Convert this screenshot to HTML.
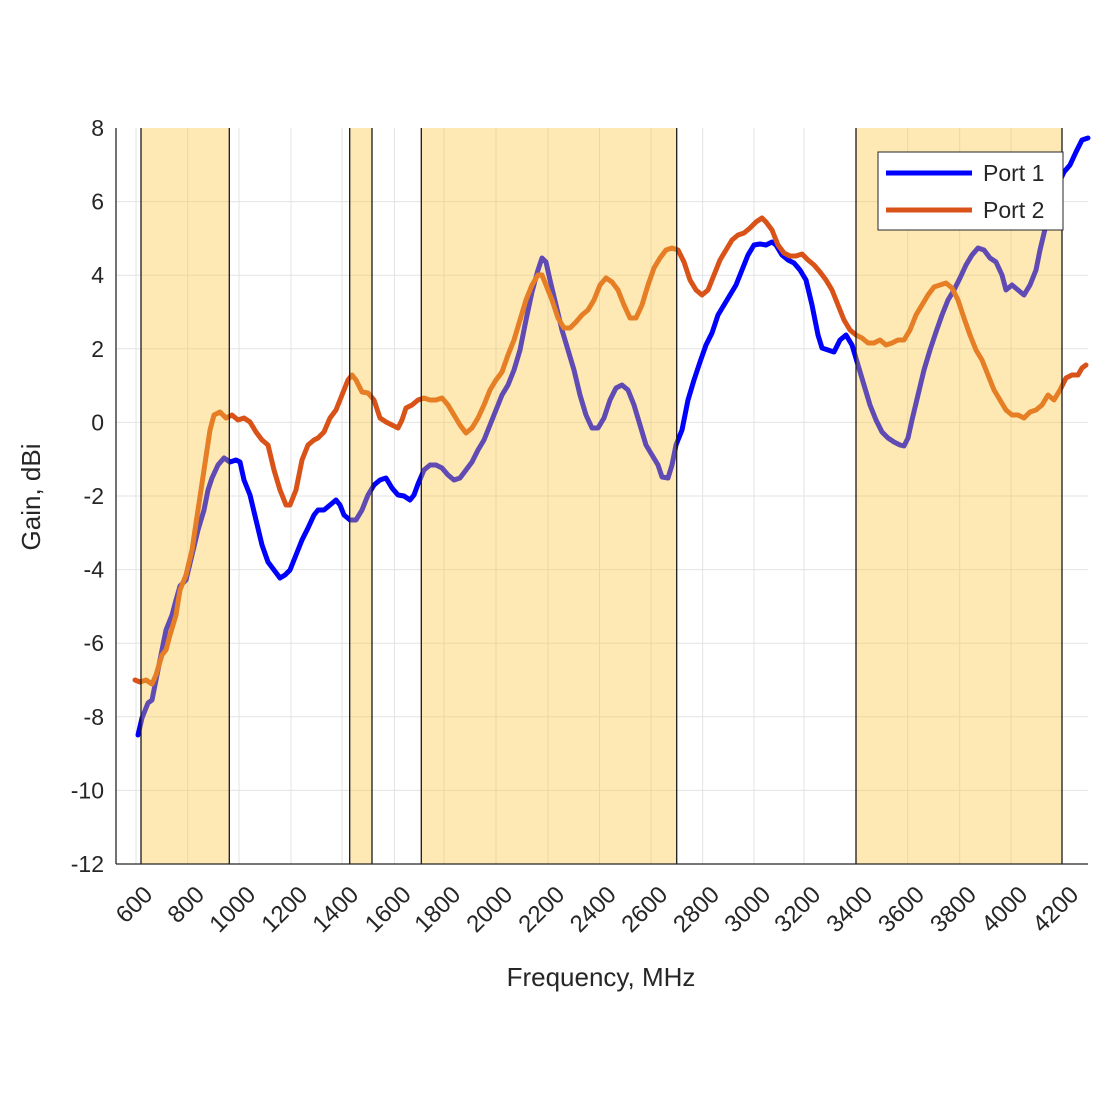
<!DOCTYPE html>
<html><head><meta charset="utf-8"><style>body{margin:0;background:#fff}svg{display:block}text{font-family:"Liberation Sans",sans-serif;fill:#262626}</style></head><body>
<svg width="1100" height="1100" viewBox="0 0 1100 1100">
<rect width="1100" height="1100" fill="#fff"/>
<g stroke="#e3e3e3" stroke-width="1">
<line x1="116" y1="201.6" x2="1088" y2="201.6"/><line x1="116" y1="275.2" x2="1088" y2="275.2"/><line x1="116" y1="348.8" x2="1088" y2="348.8"/><line x1="116" y1="422.4" x2="1088" y2="422.4"/><line x1="116" y1="496" x2="1088" y2="496"/><line x1="116" y1="569.6" x2="1088" y2="569.6"/><line x1="116" y1="643.2" x2="1088" y2="643.2"/><line x1="116" y1="716.8" x2="1088" y2="716.8"/><line x1="116" y1="790.4" x2="1088" y2="790.4"/>
<line x1="136" y1="128" x2="136" y2="864"/><line x1="187.7" y1="128" x2="187.7" y2="864"/><line x1="239" y1="128" x2="239" y2="864"/><line x1="291" y1="128" x2="291" y2="864"/><line x1="342" y1="128" x2="342" y2="864"/><line x1="394.5" y1="128" x2="394.5" y2="864"/><line x1="444" y1="128" x2="444" y2="864"/><line x1="496" y1="128" x2="496" y2="864"/><line x1="548" y1="128" x2="548" y2="864"/><line x1="599.5" y1="128" x2="599.5" y2="864"/><line x1="651" y1="128" x2="651" y2="864"/><line x1="702.7" y1="128" x2="702.7" y2="864"/><line x1="754" y1="128" x2="754" y2="864"/><line x1="804" y1="128" x2="804" y2="864"/><line x1="856" y1="128" x2="856" y2="864"/><line x1="907.7" y1="128" x2="907.7" y2="864"/><line x1="959.7" y1="128" x2="959.7" y2="864"/><line x1="1011" y1="128" x2="1011" y2="864"/><line x1="1062" y1="128" x2="1062" y2="864"/>
</g>
<g fill="none" stroke-width="5" stroke-linejoin="round" stroke-linecap="round">
<polyline stroke="#0000ff" points="138,735 142,718 148,703 152,700 156,680 162,650 166,630 172,615 176,600 180,586 186,580 192,555 198,530 204,510 208,490 212,478 218,465 224,458 230,462 236,460 240,462 244,480 250,495 256,520 262,545 268,562 274,570 280,578 285,575 290,570 296,555 302,540 308,528 314,515 318,510 324,510 330,505 336,500 340,505 344,515 350,520 356,520 362,510 368,495 374,485 380,480 386,478 392,488 398,495 404,496 410,500 414,495 418,484 424,470 430,465 436,465 442,468 448,475 454,480 460,478 466,470 472,462 478,450 484,440 490,425 496,410 502,395 508,385 514,370 520,350 526,320 532,292 538,270 542,258 546,262 550,280 556,305 562,330 568,350 574,370 580,395 586,415 592,428 598,428 604,418 610,400 616,388 622,385 628,390 634,405 640,425 646,445 652,455 658,465 662,477 668,478 672,465 676,445 682,430 688,400 694,380 700,362 706,345 712,333 718,315 724,305 730,295 736,285 742,270 748,255 754,245 760,244 766,245 772,242 776,245 782,255 788,260 794,263 800,270 806,280 812,305 818,335 822,348 828,350 834,352 840,340 846,335 852,345 858,365 864,385 870,405 876,420 882,432 888,438 894,442 900,445 904,446 908,438 912,420 918,395 924,370 930,350 936,332 942,315 948,300 954,290 960,278 966,265 972,255 978,248 984,250 990,258 996,262 1002,275 1006,290 1012,285 1018,290 1024,295 1030,285 1036,270 1040,250 1046,225 1052,200 1058,185 1064,172 1070,165 1076,152 1082,140 1088,138"/>
<polyline stroke="#d95319" points="135,680 140,682 146,680 152,684 156,675 162,655 166,650 170,635 176,615 180,590 186,575 192,550 198,510 204,470 210,430 214,415 220,412 226,418 232,415 238,420 244,418 250,422 256,432 262,440 268,445 274,470 280,490 286,505 290,505 296,490 302,460 308,445 314,440 318,438 324,432 330,418 336,410 342,395 348,380 352,375 356,380 362,392 368,393 374,400 380,418 386,422 392,425 398,428 402,420 406,408 412,405 418,400 424,398 430,400 436,400 442,398 448,405 454,415 460,425 466,433 472,428 478,418 484,405 490,390 496,380 502,372 508,355 514,340 520,320 526,300 532,285 538,275 542,275 546,285 552,300 558,318 564,328 570,328 576,322 582,315 588,310 594,300 600,285 606,278 612,282 618,290 624,305 630,318 636,318 642,305 648,285 654,268 660,258 666,250 672,248 678,250 684,262 690,280 696,290 702,295 708,290 714,275 720,260 726,250 732,240 738,235 744,233 750,228 756,222 762,218 766,222 772,230 778,245 784,253 790,256 796,256 802,254 808,260 814,265 820,272 826,280 832,290 838,305 844,320 850,330 856,335 862,338 868,343 874,343 880,340 886,345 892,343 898,340 904,340 910,330 916,315 922,305 928,295 934,287 940,285 946,283 952,288 958,300 964,318 970,335 976,350 982,360 988,375 994,390 1000,400 1006,410 1012,415 1018,415 1024,418 1030,412 1036,410 1042,405 1048,395 1054,400 1060,390 1066,378 1072,375 1078,375 1082,368 1086,365"/>
</g>
<g fill="#fdc43a" fill-opacity="0.38">
<rect x="141" y="128" width="88.3" height="736"/><rect x="349.7" y="128" width="22.3" height="736"/><rect x="421.3" y="128" width="255.4" height="736"/><rect x="856" y="128" width="206" height="736"/>
</g>
<g stroke="#1a1a1a" stroke-width="1.3">
<line x1="141" y1="128" x2="141" y2="864"/><line x1="229.3" y1="128" x2="229.3" y2="864"/><line x1="349.7" y1="128" x2="349.7" y2="864"/><line x1="372" y1="128" x2="372" y2="864"/><line x1="421.3" y1="128" x2="421.3" y2="864"/><line x1="676.7" y1="128" x2="676.7" y2="864"/><line x1="856" y1="128" x2="856" y2="864"/><line x1="1062" y1="128" x2="1062" y2="864"/>
</g>
<g stroke="#262626" stroke-width="1.3" fill="none">
<line x1="116" y1="128" x2="116" y2="864"/><line x1="116" y1="864" x2="1088" y2="864"/>
</g>
<g font-size="23" text-anchor="end">
<text x="104" y="136">8</text><text x="104" y="209.6">6</text><text x="104" y="283.2">4</text><text x="104" y="356.8">2</text><text x="104" y="430.4">0</text><text x="104" y="504">-2</text><text x="104" y="577.6">-4</text><text x="104" y="651.2">-6</text><text x="104" y="724.8">-8</text><text x="104" y="798.4">-10</text><text x="104" y="872">-12</text>
</g>
<g font-size="24" text-anchor="end">
<text transform="translate(154,896) rotate(-45)">600</text><text transform="translate(205.7,896) rotate(-45)">800</text><text transform="translate(257,896) rotate(-45)">1000</text><text transform="translate(309,896) rotate(-45)">1200</text><text transform="translate(360,896) rotate(-45)">1400</text><text transform="translate(412.5,896) rotate(-45)">1600</text><text transform="translate(462,896) rotate(-45)">1800</text><text transform="translate(514,896) rotate(-45)">2000</text><text transform="translate(566,896) rotate(-45)">2200</text><text transform="translate(617.5,896) rotate(-45)">2400</text><text transform="translate(669,896) rotate(-45)">2600</text><text transform="translate(720.7,896) rotate(-45)">2800</text><text transform="translate(772,896) rotate(-45)">3000</text><text transform="translate(822,896) rotate(-45)">3200</text><text transform="translate(874,896) rotate(-45)">3400</text><text transform="translate(925.7,896) rotate(-45)">3600</text><text transform="translate(977.7,896) rotate(-45)">3800</text><text transform="translate(1029,896) rotate(-45)">4000</text><text transform="translate(1080,896) rotate(-45)">4200</text>
</g>
<text x="601" y="986" font-size="26" text-anchor="middle">Frequency, MHz</text>
<text transform="translate(40,497) rotate(-90)" font-size="26" text-anchor="middle">Gain, dBi</text>
<rect x="878" y="152" width="185" height="78" fill="#fff" stroke="#262626" stroke-width="1"/>
<line x1="886" y1="173" x2="972" y2="173" stroke="#0000ff" stroke-width="5"/>
<line x1="886" y1="210" x2="972" y2="210" stroke="#d95319" stroke-width="5"/>
<text x="983" y="181" font-size="23">Port 1</text>
<text x="983" y="218" font-size="23">Port 2</text>
</svg>
</body></html>
